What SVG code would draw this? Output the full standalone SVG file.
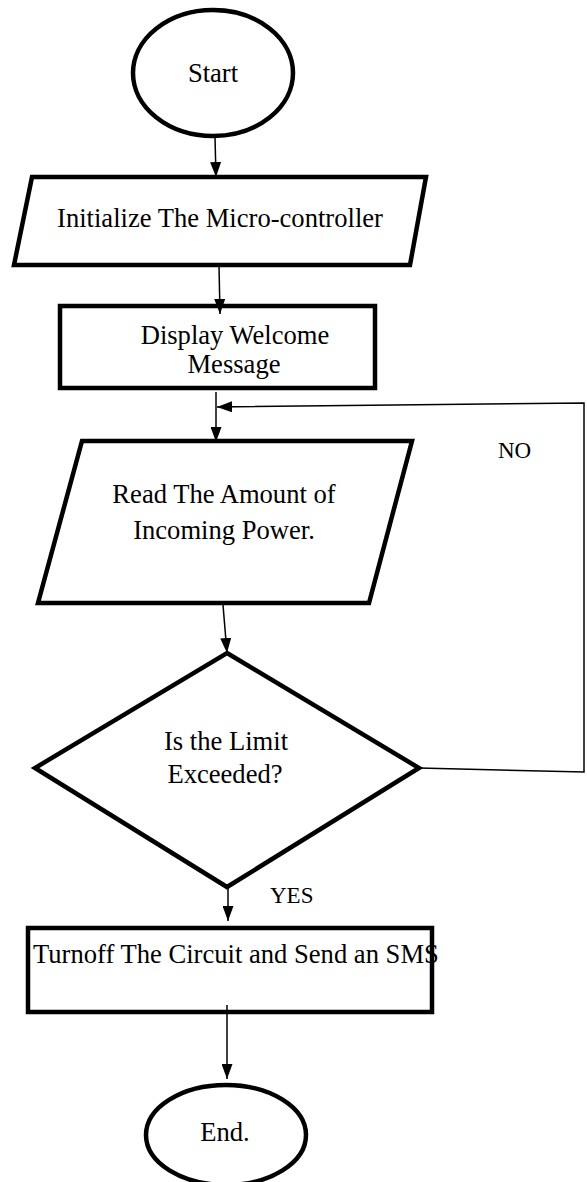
<svg xmlns="http://www.w3.org/2000/svg" width="587" height="1182" viewBox="0 0 587 1182">
<style>
.shape{fill:#fff;stroke:#000;stroke-width:4.5;stroke-linejoin:miter}
.t{font-family:"Liberation Serif","Times New Roman",serif;font-size:26.6px;fill:#000;text-anchor:middle}
.lbl{font-family:"Liberation Serif","Times New Roman",serif;font-size:23px;fill:#000}
.conn{fill:none;stroke:#000;stroke-width:1.5}
</style>
<defs>
<marker id="ah" markerUnits="userSpaceOnUse" markerWidth="15" markerHeight="11" viewBox="0 0 15 11" refX="15" refY="5.5" orient="auto">
<path d="M0,0 L15,5.5 L0,11 z" fill="#000"/>
</marker>
</defs>
<rect width="587" height="1182" fill="#fff"/>
<g id="start">
<ellipse class="shape" cx="213" cy="73" rx="80" ry="63"/>
<text class="t" x="213" y="82">Start</text>
</g>
<g id="init">
<polygon class="shape" points="32,177 426,177 410,265 14,265"/>
<text class="t" x="220" y="227">Initialize The Micro-controller</text>
</g>
<g id="display">
<rect class="shape" x="60" y="306" width="315" height="82"/>
<text class="t" x="235" y="344">Display Welcome</text>
<text class="t" x="234" y="373">Message</text>
</g>
<g id="read">
<polygon class="shape" points="82,441 412,441 369,603 38,603"/>
<text class="t" x="224" y="503">Read The Amount of</text>
<text class="t" x="224" y="539">Incoming Power.</text>
</g>
<g id="decision">
<polygon class="shape" points="227,653 419,768 227,887 35,768"/>
<text class="t" x="226" y="750">Is the Limit</text>
<text class="t" x="225" y="783">Exceeded?</text>
</g>
<g id="turnoff">
<rect class="shape" x="28" y="928" width="404" height="84"/>
<text class="t" x="33" y="963" style="text-anchor:start">Turnoff The Circuit and Send an SMS</text>
</g>
<g id="end">
<ellipse class="shape" cx="226" cy="1135" rx="80" ry="50"/>
<text class="t" x="225" y="1141">End.</text>
</g>
<g id="connectors">
<line class="conn" x1="215" y1="137" x2="216" y2="177" marker-end="url(#ah)"/>
<line class="conn" x1="219" y1="266" x2="220" y2="314" marker-end="url(#ah)"/>
<line class="conn" x1="216" y1="392" x2="216" y2="442" marker-end="url(#ah)"/>
<polyline class="conn" points="419,768 584,772 584,403 217,407" marker-end="url(#ah)"/>
<line class="conn" x1="223" y1="605" x2="227" y2="653" marker-end="url(#ah)"/>
<line class="conn" x1="228" y1="887" x2="228" y2="921" marker-end="url(#ah)"/>
<line class="conn" x1="227" y1="1005" x2="227" y2="1079" marker-end="url(#ah)"/>
<text class="lbl" x="498" y="458">NO</text>
<text class="lbl" x="270" y="903">YES</text>
</g>
</svg>
